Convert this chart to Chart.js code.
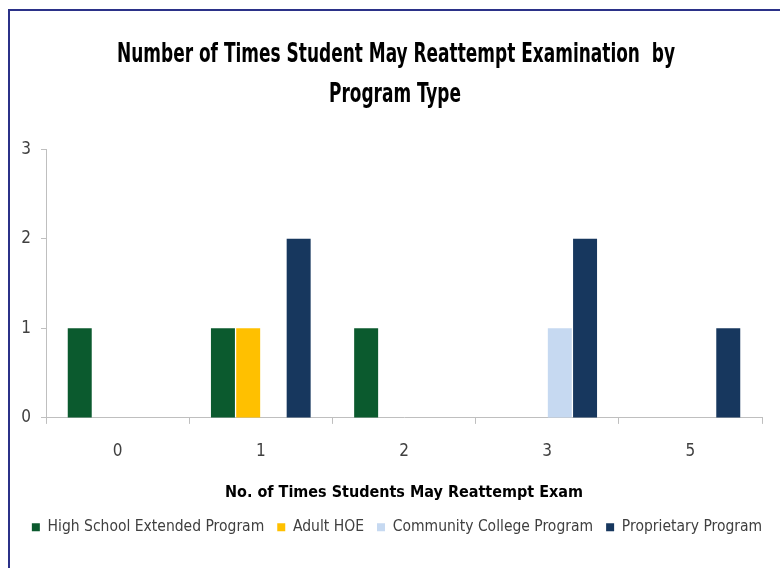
<!DOCTYPE html>
<html>
<head>
<meta charset="utf-8">
<script src="https://cdn.jsdelivr.net/npm/chart.js@4.4.0/dist/chart.umd.min.js"></script>
<style>
  html, body { margin: 0; padding: 0; background: #fff; }
  #wrap { position: relative; width: 780px; height: 568px; }
  #frame { position: absolute; left: 8px; top: 9px; right: -4px; bottom: -4px;
           border-left: 2px solid #2b3188; border-top: 2px solid #2b3188; pointer-events: none; }
  #Cnvs { position: absolute; left: 0; top: 0; }
</style>
</head>
<body>
<div id="wrap">
  <canvas id="Cnvs" width="780" height="568"></canvas>
  <div id="frame"></div>
</div>
<script>
// data
var attempts = ['0', '1', '2', '3', '5'];
var highSchoolExt = [1, 1, 1, 0, 0];
var adultHOE = [0, 1, 0, 0, 0];
var communityCollege = [0, 0, 0, 1, 0];
var proprietary = [0, 2, 0, 2, 1];

var titleLine1 = 'Number of Times Student May Reattempt Examination  by';
var titleLine2 = 'Program Type';

var fam = '"Liberation Sans Narrow", "Arial Narrow", "DejaVu Sans Condensed", sans-serif';
var axisGrey = '#bfbfbf';

var chartData = {
  labels: attempts,
  datasets: [
    { label: 'High School Extended Program', data: highSchoolExt, backgroundColor: '#0b5a2e' },
    { label: 'Adult HOE', data: adultHOE, backgroundColor: '#ffc000' },
    { label: 'Community College Program', data: communityCollege, backgroundColor: '#c6d9f1' },
    { label: 'Proprietary Program', data: proprietary, backgroundColor: '#17375e' }
  ]
};

// both title lines squeezed into narrower boxes (the original used a narrow font), legend nudged right
var shiftBoxes = {
  id: 'shiftBoxes',
  afterLayout: function(chart) {
    var t = chart.titleBlock;
    t.left = 117; t.right = 675; t.width = 558;
    chart.boxes.forEach(function(b) {
      if (b !== t && b.options && b.options.text === titleLine2) {
        b.left = 329; b.right = 461; b.width = 132;
      }
    });
    var lg = chart.legend;
    lg.left += 16; lg.right += 16;
  }
};

var titleFont = { family: fam, size: 26, weight: 'bold', lineHeight: 1.54 };

var option = {
  responsive: false,
  animation: false,
  layout: { padding: { left: 0, right: 18, top: 10, bottom: 23 } },
  datasets: { bar: { categoryPercentage: 0.705, barPercentage: 0.95 } },
  plugins: {
    title: {
      display: true,
      text: titleLine1,
      color: '#000',
      font: titleFont,
      padding: { top: 25, bottom: 0 }
    },
    subtitle: {
      display: true,
      text: titleLine2,
      color: '#000',
      font: titleFont,
      padding: { top: 0, bottom: 34 }
    },
    legend: {
      position: 'bottom',
      labels: {
        color: '#404040',
        font: { family: fam, size: 15.5 },
        boxWidth: 8, boxHeight: 8,
        padding: 13
      }
    },
    tooltip: { enabled: false }
  },
  scales: {
    x: {
      grid: { display: true, drawOnChartArea: false, drawTicks: true, tickLength: 6, color: axisGrey, offset: true },
      border: { display: true, color: axisGrey, width: 1 },
      ticks: { color: '#404040', font: { family: fam, size: 17 }, padding: 17 },
      title: {
        display: true,
        text: 'No. of Times Students May Reattempt Exam',
        color: '#000',
        font: { family: fam, size: 16, weight: 'bold' },
        padding: { top: 5, bottom: 4 }
      }
    },
    y: {
      min: 0, max: 3,
      afterFit: function(scale) { scale.width = 46; },
      grid: { display: true, drawOnChartArea: false, drawTicks: true, tickLength: 5, color: axisGrey },
      border: { display: true, color: axisGrey, width: 1 },
      ticks: { stepSize: 1, color: '#404040', font: { family: fam, size: 17 }, padding: 10 }
    }
  }
};

var barChart = new Chart(document.getElementById('Cnvs'), {
  type: 'bar',
  data: chartData,
  options: option,
  plugins: [shiftBoxes]
});
</script>
</body>
</html>
